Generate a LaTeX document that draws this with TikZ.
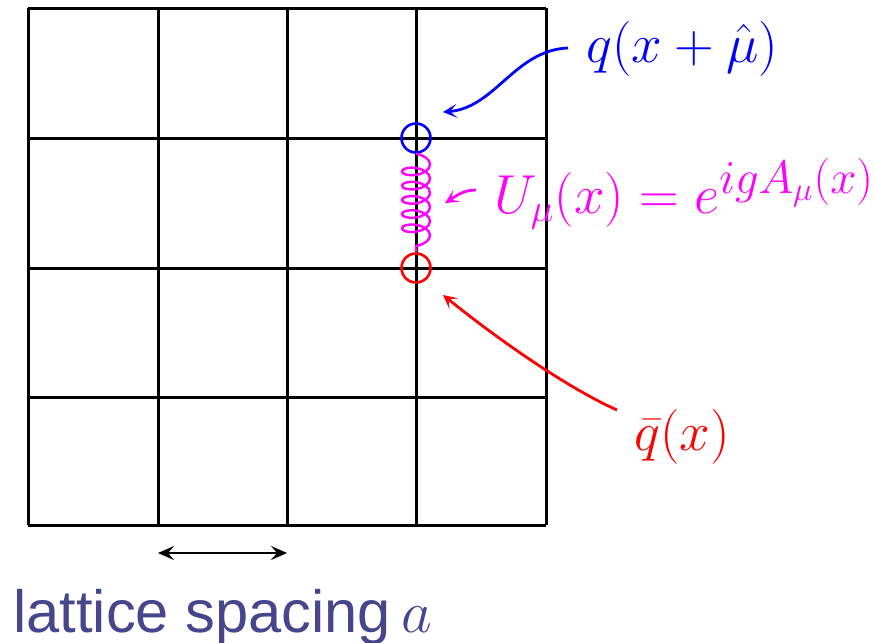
\RequirePackage{fix-cm}
\documentclass[tikz,border=0pt]{standalone}
\usepackage{fontspec}
\setsansfont{Liberation Sans}
\usetikzlibrary{decorations.pathmorphing,arrows.meta}
\definecolor{labblue}{RGB}{70,70,140}
\definecolor{pmag}{RGB}{255,0,255}
\definecolor{pblue}{RGB}{0,0,255}
\definecolor{pred}{RGB}{255,0,0}
\tikzset{
  gridline/.style={line width=1.5pt,black},
  site/.style={circle,draw,line width=1.3pt,minimum size=14.5pt,inner sep=0pt},
  lab/.style={font=\fontsize{27.5}{32}\selectfont,inner sep=0pt},
  pointer/.style={line width=1.4pt,-{Stealth[length=7pt,width=7pt,inset=3.5pt]}},
}
\begin{document}
\begin{tikzpicture}[x=0.5pt,y=-0.5pt]
\useasboundingbox (0,0) rectangle (874,643);
% grid
\foreach \v in {28,158,287,416,546}{
  \draw[gridline] (\v,8) -- (\v,525);
}
\foreach \h in {8,138,268,397,525}{
  \draw[gridline] (28,\h) -- (546,\h);
}
% sites
\node[site,draw=pblue] (top) at (416,138) {};
\node[site,draw=pred] (bot) at (416,268) {};
% link (gluon coil)
\draw[pmag,line width=1.2pt,decorate,decoration={coil,aspect=0.5,amplitude=7pt,segment length=7.1pt}] (top.south) -- (bot.north);
% labels
\node[lab,text=pblue,anchor=west] (qlab) at (586,49) {$q(x+\hat\mu)$};
\node[lab,text=pmag,anchor=west] (ulab) at (494,194) {$U_\mu(x)=e^{\mbox{\fontsize{23.5}{28}\selectfont$igA_{\mu}(x)$}}$};
\node[lab,text=pred,anchor=west] (qblab) at (634,437) {$\bar q(x)$};
% arrows
\coordinate (qtail) at (568,48);
\coordinate (qtip) at (443,112);
\draw[pointer,pblue] (qtail) .. controls (515,50) and (495,108) .. (qtip);
\coordinate (utail) at (476,190);
\coordinate (utip) at (445,203);
\draw[pointer,pmag] (utail) .. controls (462,190) and (455,197) .. (utip);
\coordinate (rtail) at (617,410);
\coordinate (rtip) at (443,295);
\draw[pointer,pred] (rtail) .. controls (572,390) and (505,345) .. (rtip);
% lattice spacing
\coordinate (la) at (158,553);
\coordinate (lb) at (287,553);
\draw[line width=1pt,{Stealth[length=8pt,width=7pt,inset=3pt]}-{Stealth[length=8pt,width=7pt,inset=3pt]}] (la) -- (lb);
\node[anchor=base west,inner sep=0pt,text=labblue,font=\sffamily\fontsize{29.8}{34}\selectfont] (spacing) at (13,632) {lattice spacing\hspace{0.18em}$a$};
\end{tikzpicture}
\end{document}
